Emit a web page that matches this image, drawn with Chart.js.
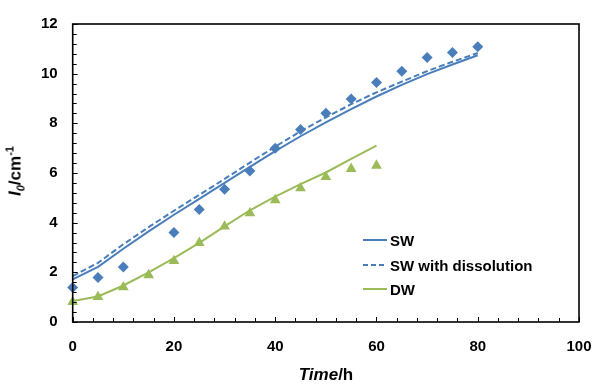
<!DOCTYPE html>
<html><head><meta charset="utf-8">
<script src="https://cdn.jsdelivr.net/npm/chart.js@4.4.1/dist/chart.umd.min.js"></script>
<style>
html,body{margin:0;padding:0;background:#fff;}
#wrap{position:relative;width:593px;height:385px;font-family:Arial,"Liberation Sans",sans-serif;color:#000;}
canvas{position:absolute;left:0;top:0;}
.ttl{position:absolute;white-space:nowrap;font-weight:bold;font-size:17px;line-height:1;}
#xt{left:326px;top:374px;transform:translate(-50%,-50%);}
#yt{left:15px;top:171px;transform:translate(-50%,-50%) rotate(-90deg);}
sub,sup{font-size:11px;line-height:0;}
#legend{position:absolute;left:0;top:0;}
.lg{position:absolute;left:363px;height:18px;display:flex;align-items:center;font-weight:bold;font-size:15px;white-space:nowrap;}
.lg svg{margin-right:3px;}
</style></head>
<body>
<div id="wrap">
<canvas id="c" width="593" height="385"></canvas>
<div class="ttl" id="xt"><i>Time</i>/h</div>
<div class="ttl" id="yt"><i>I</i><sub><i>0</i></sub>/cm<sup>-1</sup></div>
<div id="legend"></div>
</div>
<script>
// ---- data ----
const swObsTime = [0,5,10,20,25,30,35,40,45,50,55,60,65,70,75,80];
const swObs     = [1.39,1.79,2.21,3.60,4.53,5.35,6.08,7.00,7.75,8.41,8.98,9.64,10.10,10.65,10.85,11.08];
const dwObsTime = [0,5,10,15,20,25,30,35,40,45,50,55,60];
const dwObs     = [0.81,1.01,1.40,1.89,2.46,3.19,3.85,4.38,4.91,5.39,5.84,6.17,6.30];
const swModelTime = [0,5,10,15,20,25,30,35,40,45,50,55,60,65,70,75,80];
const swModel     = [1.72,2.22,2.95,3.65,4.32,4.96,5.60,6.25,6.88,7.48,8.04,8.57,9.08,9.55,9.98,10.37,10.74];
const swDissModel = [1.85,2.38,3.13,3.82,4.48,5.12,5.76,6.42,7.06,7.68,8.24,8.77,9.25,9.68,10.10,10.48,10.83];
const dwModelTime = [0,5,10,15,20,25,30,35,40,45,50,55,60];
const dwModel     = [0.85,1.03,1.47,2.00,2.57,3.19,3.85,4.50,5.05,5.55,6.02,6.57,7.10];
const xTicks = [0,20,40,60,80,100];
const yTicks = [0,2,4,6,8,10,12];
const legendLabels = ['SW','SW with dissolution','DW'];

const BLUE = '#4A7EBB', GREEN = '#9BBB59';
const pts = (xs, ys) => xs.map((x,i)=>({x, y: ys[i]}));

Chart.defaults.font.family = 'Arial, "Liberation Sans", sans-serif';
Chart.defaults.color = '#000';

const frame = {
  id: 'frame',
  afterDraw(chart){
    const {ctx, chartArea: a, scales: {x, y}} = chart;
    ctx.save();
    ctx.strokeStyle = '#000';
    ctx.lineWidth = 1;
    ctx.beginPath();
    for (let k = 0; k <= 25; k++) {
      const v = k*4;
      const px = Math.round(x.getPixelForValue(v)) + 0.5;
      const len = (v % 20 === 0) ? 5 : 4;
      ctx.moveTo(px, a.bottom); ctx.lineTo(px, a.bottom - len);
    }
    for (let k = 0; k <= 30; k++) {
      const v = k*0.4;
      const py = Math.round(y.getPixelForValue(v)) + 0.5;
      const len = (k % 5 === 0) ? 5 : 4;
      ctx.moveTo(a.left, py); ctx.lineTo(a.left + len, py);
    }
    ctx.stroke();
    ctx.lineWidth = 1.6;
    ctx.strokeRect(a.left, a.top, a.right - a.left, a.bottom - a.top);
    ctx.restore();
  }
};

new Chart(document.getElementById('c'), {
  type: 'scatter',
  data: {
    datasets: [
      {label:'SW obs', data: pts(swObsTime, swObs), pointStyle:'rectRot', pointRadius:5.5, backgroundColor:BLUE, borderColor:BLUE, borderWidth:0, showLine:false, clip:false},
      {label:'DW obs', data: pts(dwObsTime, dwObs), pointStyle:'triangle', pointRadius:6.2, backgroundColor:GREEN, borderColor:GREEN, borderWidth:0, showLine:false, clip:false},
      {label:legendLabels[0], data: pts(swModelTime, swModel), showLine:true, pointRadius:0, borderColor:BLUE, borderWidth:2, tension:0, clip:false},
      {label:legendLabels[1], data: pts(swModelTime, swDissModel), showLine:true, pointRadius:0, borderColor:BLUE, borderWidth:2, borderDash:[6,3], tension:0, clip:false},
      {label:legendLabels[2], data: pts(dwModelTime, dwModel), showLine:true, pointRadius:0, borderColor:GREEN, borderWidth:2, tension:0, clip:false}
    ]
  },
  options: {
    responsive:false, animation:false, events:[],
    layout:{padding:{left:0, right:0, top:20, bottom:0}},
    plugins:{legend:{display:false}, tooltip:{enabled:false}},
    scales:{
      x:{type:'linear', min:0, max:100,
         afterBuildTicks: s => { s.ticks = xTicks.map(v=>({value:v})); },
         afterFit: s => { s.height = 63; s.paddingRight = 14; },
         grid:{display:false, drawTicks:false}, border:{display:false},
         ticks:{font:{size:15, weight:'bold'}, padding:16, maxRotation:0}},
      y:{type:'linear', min:0, max:12,
         afterBuildTicks: s => { s.ticks = yTicks.map(v=>({value:v})); },
         afterFit: s => { s.width = 72.7; },
         grid:{display:false, drawTicks:false}, border:{display:false},
         ticks:{font:{size:15, weight:'bold'}, padding:15}}
    }
  },
  plugins:[frame]
});

// HTML legend (lines only)
const legendRows = [
  {label: legendLabels[0], color: BLUE, dash: ''},
  {label: legendLabels[1], color: BLUE, dash: '5,3'},
  {label: legendLabels[2], color: GREEN, dash: ''}
];
const rowTops = [240, 265, 289];
const lg = document.getElementById('legend');
legendRows.forEach((r, i) => {
  const d = document.createElement('div');
  d.className = 'lg';
  d.style.top = (rowTops[i] - 9) + 'px';
  d.innerHTML = `<svg width="24" height="4"><line x1="0" y1="2" x2="24" y2="2" stroke="${r.color}" stroke-width="2" ${r.dash ? `stroke-dasharray="${r.dash}"` : ''}/></svg><span></span>`;
  d.querySelector('span').textContent = r.label;
  lg.appendChild(d);
});
</script>
</body></html>
